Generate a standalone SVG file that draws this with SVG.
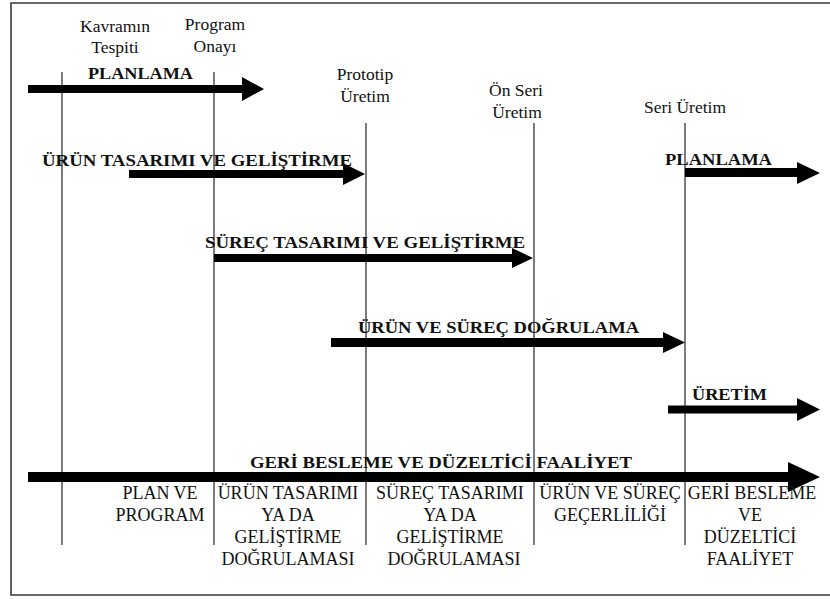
<svg xmlns="http://www.w3.org/2000/svg" width="830" height="599" viewBox="0 0 830 599">
<style>
  .frame{fill:none;stroke:#3a3a3a;stroke-width:1.6}
  .ms{stroke:#444;stroke-width:1.4;fill:none}
  .arr{fill:#000}
  .t{font-family:'Liberation Serif',serif;font-size:17.5px;text-anchor:middle;fill:#111}
  .b{font-family:'Liberation Serif',serif;font-size:17.5px;font-weight:bold;fill:#111}
  .lb{font-family:'Liberation Serif',serif;font-size:18px;text-anchor:middle;fill:#111}
</style>
<rect width="830" height="599" fill="#fff"/>
<path class="frame" d="M832,3 H11 V595 H832"/>

<g id="milestones">
  <g id="ms-kavram">
    <line class="ms" x1="62" y1="72" x2="62" y2="545"/>
    <text class="t" x="115" y="32">Kavramın</text>
    <text class="t" x="115" y="53">Tespiti</text>
  </g>
  <g id="ms-program">
    <line class="ms" x1="214" y1="72" x2="214" y2="545"/>
    <text class="t" x="215" y="30">Program</text>
    <text class="t" x="215" y="52">Onayı</text>
  </g>
  <g id="ms-prototip">
    <line class="ms" x1="366" y1="123" x2="366" y2="545"/>
    <text class="t" x="365" y="80">Prototip</text>
    <text class="t" x="365" y="102">Üretim</text>
  </g>
  <g id="ms-onseri">
    <line class="ms" x1="534" y1="123" x2="534" y2="545"/>
    <text class="t" x="516" y="96">Ön Seri</text>
    <text class="t" x="517" y="118">Üretim</text>
  </g>
  <g id="ms-seri">
    <line class="ms" x1="685" y1="123" x2="685" y2="545"/>
    <text class="t" x="685" y="113">Seri Üretim</text>
  </g>
</g>

<g id="connectors">
  <path class="arr" d="M28,85 H242 V77 L264,89 L242,101 V93 H28 Z"/>
  <path class="arr" d="M129,170 H343 V163 L365,174 L343,185 V178 H129 Z"/>
  <path class="arr" d="M214,254 H512 V248 L533,258 L512,268 V262 H214 Z"/>
  <path class="arr" d="M331,338 H663 V332 L685,342.5 L663,353 V347 H331 Z"/>
  <path class="arr" d="M685,168 H797 V162 L820,173 L797,184 V177 H685 Z"/>
  <path class="arr" d="M668,405.5 H797 V398 L820,409.5 L797,421 V413.5 H668 Z"/>
  <path class="arr" d="M28,472 H788 V462 L820,477 L788,492 V482 H28 Z"/>
</g>

<g id="phases">
  <g id="ph-planlama1"><text class="b" x="88" y="79" textLength="105" lengthAdjust="spacingAndGlyphs">PLANLAMA</text></g>
  <g id="ph-urun"><text class="b" x="42" y="166" textLength="310" lengthAdjust="spacingAndGlyphs">ÜRÜN TASARIMI VE GELİŞTİRME</text></g>
  <g id="ph-surec"><text class="b" x="205" y="248" textLength="320" lengthAdjust="spacingAndGlyphs">SÜREÇ TASARIMI VE GELİŞTİRME</text></g>
  <g id="ph-dogrulama"><text class="b" x="358" y="333" textLength="281" lengthAdjust="spacingAndGlyphs">ÜRÜN VE SÜREÇ DOĞRULAMA</text></g>
  <g id="ph-planlama2"><text class="b" x="665" y="165" textLength="107" lengthAdjust="spacingAndGlyphs">PLANLAMA</text></g>
  <g id="ph-uretim"><text class="b" x="692" y="400" textLength="75" lengthAdjust="spacingAndGlyphs">ÜRETİM</text></g>
  <g id="ph-geri"><text class="b" x="250" y="468" textLength="382" lengthAdjust="spacingAndGlyphs">GERİ BESLEME VE DÜZELTİCİ FAALİYET</text></g>
</g>

<g id="stages">
  <g id="st-plan">
    <text class="lb" x="160" y="499">PLAN VE</text>
    <text class="lb" x="160" y="521">PROGRAM</text>
  </g>
  <g id="st-urun">
    <text class="lb" x="288" y="499">ÜRÜN TASARIMI</text>
    <text class="lb" x="288" y="521">YA DA</text>
    <text class="lb" x="288" y="543">GELİŞTİRME</text>
    <text class="lb" x="288" y="565">DOĞRULAMASI</text>
  </g>
  <g id="st-surec">
    <text class="lb" x="450" y="499">SÜREÇ TASARIMI</text>
    <text class="lb" x="450" y="521">YA DA</text>
    <text class="lb" x="450" y="543">GELİŞTİRME</text>
    <text class="lb" x="454" y="565">DOĞRULAMASI</text>
  </g>
  <g id="st-gecerlilik">
    <text class="lb" x="610" y="499">ÜRÜN VE SÜREÇ</text>
    <text class="lb" x="610" y="521">GEÇERLİLİĞİ</text>
  </g>
  <g id="st-geri">
    <text class="lb" x="752" y="499">GERİ BESLEME</text>
    <text class="lb" x="750" y="521">VE</text>
    <text class="lb" x="750" y="543">DÜZELTİCİ</text>
    <text class="lb" x="750" y="565">FAALİYET</text>
  </g>
</g>
</svg>
